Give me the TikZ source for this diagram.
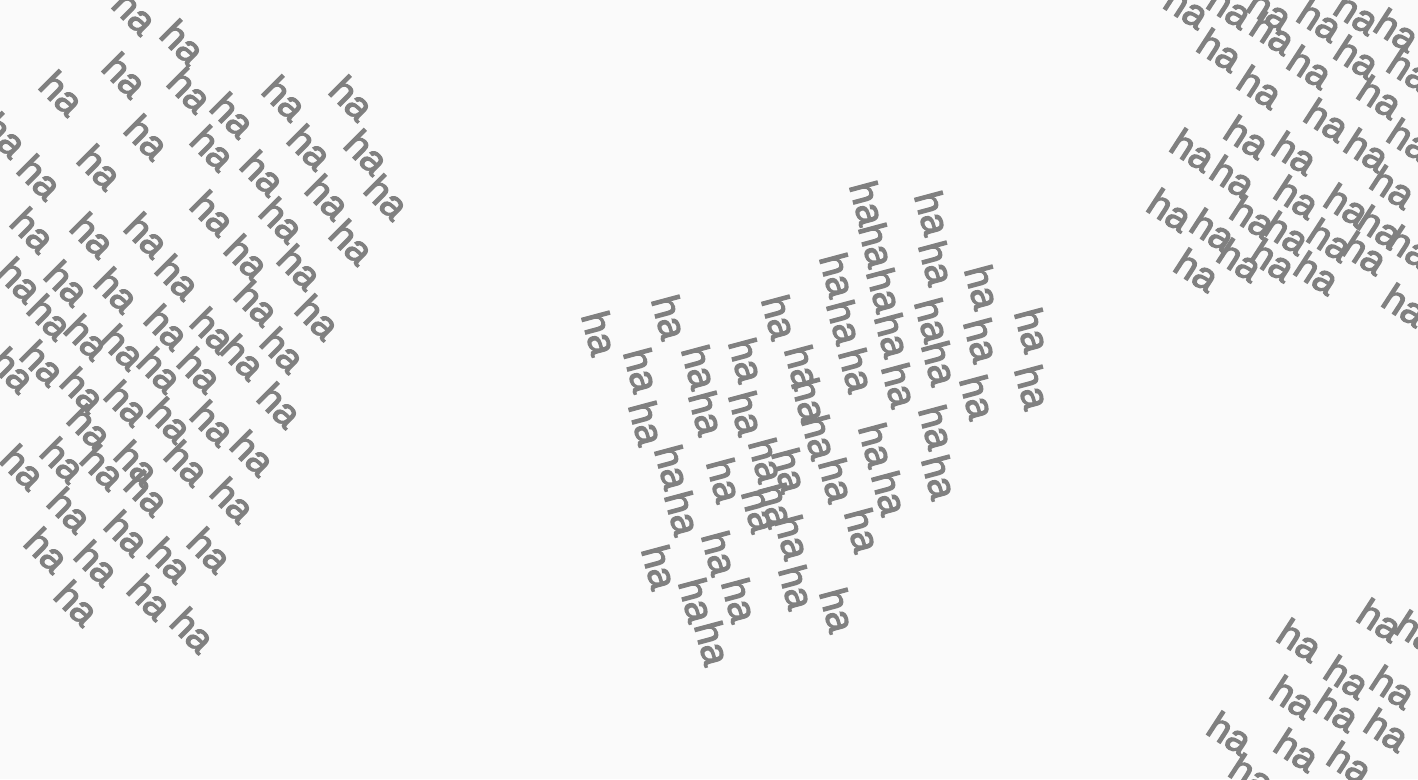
\documentclass[tikz,border=0pt]{standalone}
\usepackage{fontspec}
\setmainfont{Liberation Sans}
\newfontfamily\hafont{Liberation Sans}[FakeBold=3]
\tikzset{ha/.style={inner sep=0pt, text=black!50, font=\hafont\fontsize{39}{40}\selectfont}}
\tikzset{lha/.style={ha, rotate=-45}}
\tikzset{cha/.style={ha, rotate=-75}}
\tikzset{rha/.style={ha, rotate=-33}}

\begin{document}
\begin{tikzpicture}[x=1pt, y=-1pt]
    \useasboundingbox (0,0) rectangle (1418,779);
    \clip (0,0) rectangle (1418,779);
    \fill[black!2] (0,0) rectangle (1418,779);
    % left
    \foreach \x/\y [count=\i] in {135/12, 183/42, 125/75, 62/93, 190/90, 233/115, 213/148, 147/137, 5/135, 285/98, 310/147, 352/98, 367/152, 387/197, 328/197, 352/242, 100/167, 40/177, 263/173, 282/220, 300/267, 318/317, 213/213, 247/257, 257/303, 283/350, 33/230, 93/235, 147/235, 178/277, 20/280, 67/283, 117/290, 167/327, 213/330, 243/357, 50/317, 87/337, 123/347, 160/370, 200/370, 280/405, 13/370, 43/363, 83/390, 127/403, 170/420, 213/423, 253/453, 90/427, 137/463, 187/463, 233/500, 103/467, 147/493, 210/550, 23/467, 63/460, 70/510, 127/533, 170/560, 47/550, 97/563, 150/597, 193/630, 77/603}
        \node[lha] (l\i) at (\x,\y) {ha};
    % middle
    \foreach \x/\y [count=\i] in {1033/330, 1033/387, 983/287, 982/340, 978/397, 933/213, 937/263, 933/320, 940/363, 937/427, 940/477, 868/203, 877/245, 885/290, 893/335, 900/385, 838/275, 845/322, 857/370, 877/445, 890/493, 780/317, 803/367, 747/360, 747/413, 700/367, 707/413, 670/317, 642/370, 647/423, 600/333, 673/467, 683/513, 660/567, 697/600, 713/643, 720/553, 740/600, 793/537, 797/587, 838/610, 820/437, 837/480, 863/530, 767/460, 777/505, 790/470, 760/510, 725/480, 810/400}
        \node[cha] (c\i) at (\x,\y) {ha};
    % top right
    \foreach \x/\y [count=\i] in {1187/7, 1230/7, 1270/10, 1320/20, 1357/13, 1397/30, 1273/33, 1310/67, 1357/57, 1220/50, 1260/87, 1380/97, 1327/120, 1367/150, 1247/137, 1295/153, 1393/187, 1193/150, 1233/177, 1297/197, 1347/205, 1380/227, 1253/217, 1287/233, 1330/240, 1365/253, 1170/210, 1213/230, 1240/260, 1273/260, 1317/273, 1197/270, 1405/305, 1410/70, 1410/140, 1410/247}
        \node[rha] (t\i) at (\x,\y) {ha};
    % bottom right
    \foreach \x/\y [count=\i] in {1380/620, 1418/632, 1300/640, 1347/677, 1393/687, 1293/697, 1337/710, 1387/730, 1230/733, 1297/750, 1350/763, 1252/775}
        \node[rha] (b\i) at (\x,\y) {ha};
\end{tikzpicture}
\end{document}
